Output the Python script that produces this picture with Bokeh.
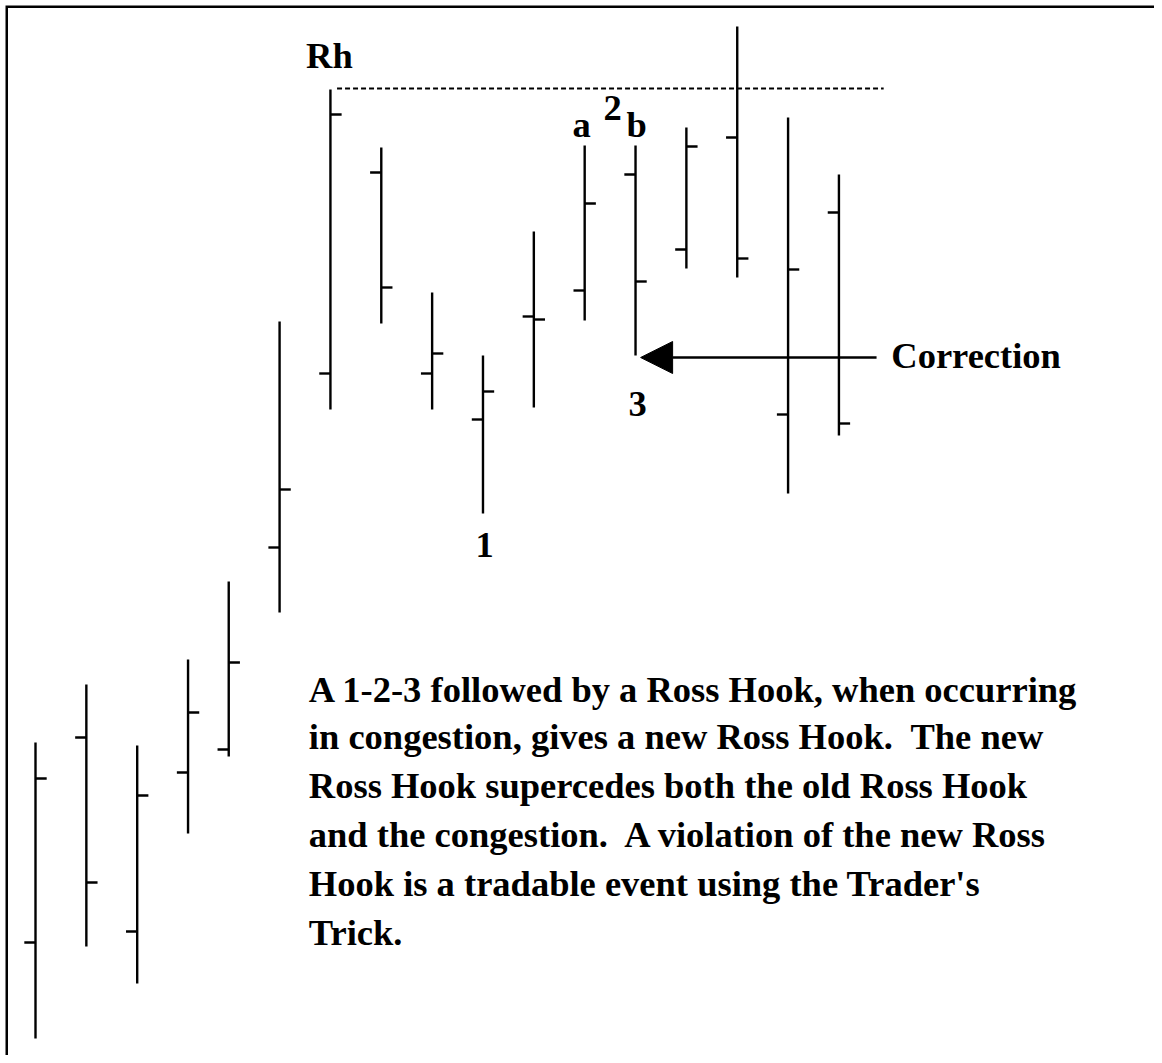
from bokeh.plotting import figure
from bokeh.models import Range1d, Arrow, NormalHead, ColumnDataSource
from bokeh.core.properties import value
from bokeh.embed import file_html
from bokeh.resources import INLINE

# ---- OHLC data (price units) ----
bar_x = [0, 1, 2, 3, 3.8, 4.8, 5.8, 6.8, 7.8, 8.8, 9.8, 10.8, 11.8, 12.8, 13.8, 14.8, 15.8]
high  = [35.8, 41.6, 35.5, 44.1, 51.9, 77.9, 101.1, 95.3, 80.8, 74.5, 86.9, 95.5, 95.5, 97.3, 107.4, 98.3, 92.6]
low   = [6.2, 15.4, 11.7, 26.7, 34.4, 48.8, 69.1, 77.7, 69.1, 58.7, 69.3, 78.0, 74.5, 83.2, 82.3, 60.7, 66.5]
open_ = [15.8, 36.3, 16.9, 32.8, 35.1, 55.3, 72.7, 92.8, 72.7, 68.1, 78.4, 81.0, 92.6, 85.1, 96.3, 68.6, 88.8]
close = [32.2, 21.8, 30.5, 38.8, 43.8, 61.1, 98.6, 81.3, 74.7, 70.9, 78.1, 89.7, 81.9, 95.4, 84.2, 83.1, 67.7]

# Ross Hook level and correction level
rh_level = 101.2
rh_x = [5.93, 16.68]
corr_level = 74.3
corr_x = [16.54, 11.9]

# labels
label_text = ["Rh", "a", "2", "b", "1", "3"]
label_x = [5.78, 10.74, 11.35, 11.82, 8.83, 11.84]
label_y = [104.5, 97.6, 99.25, 97.6, 55.6, 69.7]

corr_label = "Correction"
corr_label_x = 16.83
corr_label_y = 74.5

para_lines = [
    "A 1-2-3 followed by a Ross Hook, when occurring",
    "in congestion, gives a new Ross Hook.\u00a0 The new",
    "Ross Hook supercedes both the old Ross Hook",
    "and the congestion.\u00a0 A violation of the new Ross",
    "Hook is a tradable event using the Trader's",
    "Trick.",
]
para_x = 5.375
para_y = [41.1, 36.4, 31.5, 26.6, 21.7, 16.8]

TICK = 0.22
FONT = value("Liberation Serif")
FS = "36.5px"

W, H = 1154, 1055
PAD = 5
x_range = Range1d(-0.59, -0.59 + (W - PAD) / 50.85)
y_range = Range1d(109.5 - (H - PAD) / 10.0, 109.5)

p = figure(width=W, height=H, x_range=x_range, y_range=y_range,
           x_axis_type=None, y_axis_type=None,
           output_backend="svg", toolbar_location=None,
           min_border=0, min_border_left=PAD, min_border_top=PAD,
           outline_line_color=None,
           background_fill_color="white", border_fill_color="white")
p.grid.visible = False

src = ColumnDataSource(dict(
    x=bar_x, high=high, low=low, open=open_, close=close,
    xl=[v - TICK for v in bar_x], xr=[v + TICK for v in bar_x],
))

LW = 2.4
# high-low bars
p.segment(x0="x", y0="low", x1="x", y1="high", source=src, line_color="black", line_width=LW)
# open ticks (left)
p.segment(x0="xl", y0="open", x1="x", y1="open", source=src, line_color="black", line_width=LW)
# close ticks (right)
p.segment(x0="x", y0="close", x1="xr", y1="close", source=src, line_color="black", line_width=LW)

# Ross hook dashed level
p.line(x=rh_x, y=[rh_level, rh_level], line_color="black", line_width=2.2, line_dash="5 3")

# correction arrow
p.add_layout(Arrow(end=NormalHead(size=32, fill_color="black", line_color="black"),
                   x_start=corr_x[0], y_start=corr_level, x_end=corr_x[1], y_end=corr_level,
                   line_color="black", line_width=2.5))

# labels
p.text(x=label_x, y=label_y, text=label_text, text_font=FONT, text_font_style="bold",
       text_font_size=FS, text_align="center", text_baseline="alphabetic", text_color="black")
p.text(x=[corr_label_x], y=[corr_label_y], text=[corr_label], text_font=FONT, text_font_style="bold",
       text_font_size=FS, text_align="left", text_baseline="alphabetic", text_color="black")
p.text(x=[para_x] * len(para_lines), y=para_y, text=para_lines, text_font=FONT, text_font_style="bold",
       text_font_size=FS, text_align="left", text_baseline="alphabetic", text_color="black")

# frame border (top and left only)
p.line(x=[x_range.start, x_range.start, x_range.end], y=[y_range.start, y_range.end, y_range.end],
       line_color="black", line_width=5)

open("out.html", "w").write(file_html(p, INLINE))
